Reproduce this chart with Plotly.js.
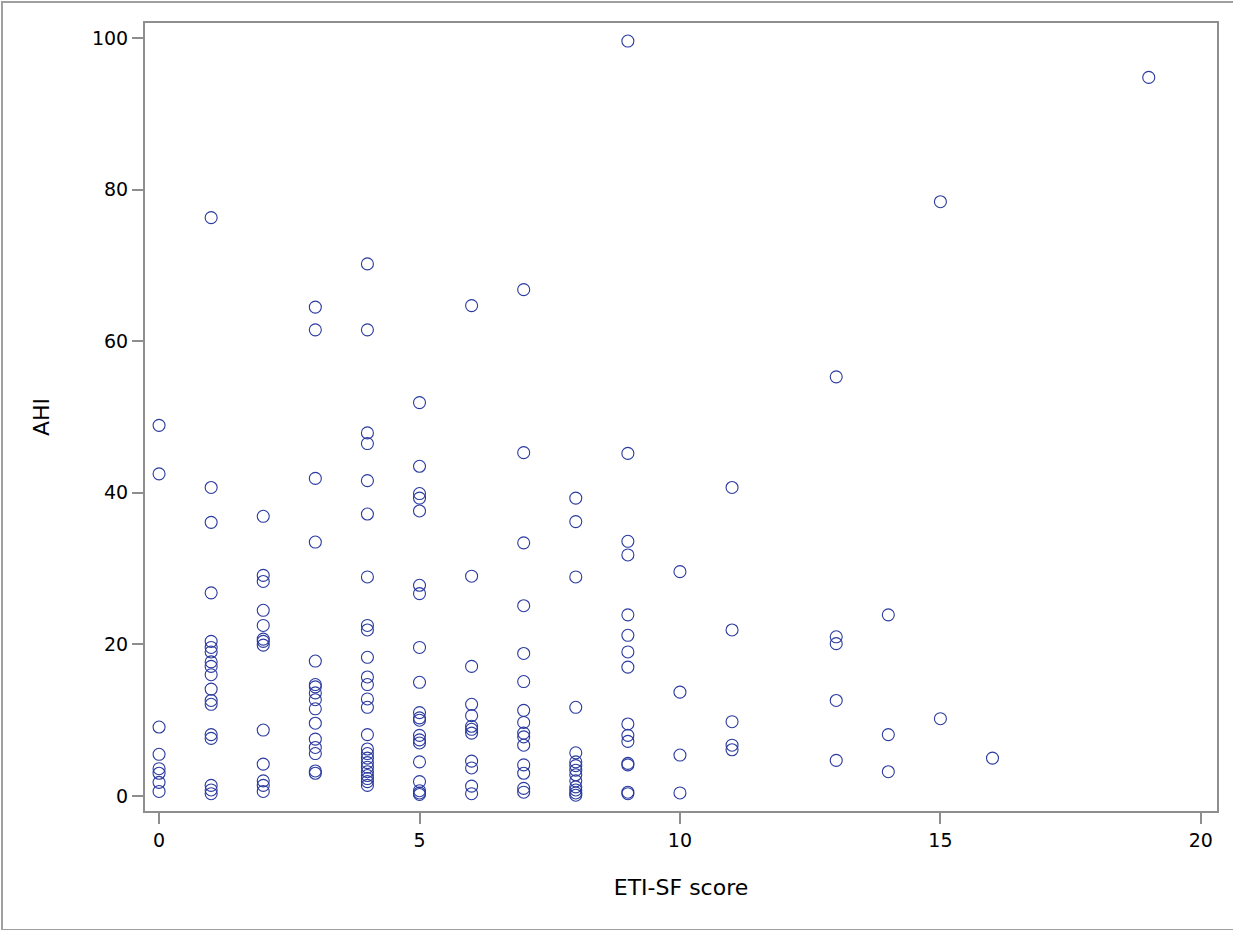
<!DOCTYPE html>
<html>
<head>
<meta charset="utf-8">
<script src="https://cdn.plot.ly/plotly-3.0.1.min.js"></script>
<style>
  html, body { margin: 0; padding: 0; background: #fff; }
  #frame { position: absolute; left: 0; top: 0; width: 1233px; height: 930px; box-sizing: border-box;
           border-left: 2px solid #a0a0a0; border-top: 2px solid #a0a0a0; border-bottom: 2px solid #a0a0a0; margin-left:1px; margin-top:1px; pointer-events:none; }
  #chart { position: absolute; left: 0; top: 0; width: 1233px; height: 930px; }
</style>
</head>
<body>
<div id="chart"></div>
<div id="frame"></div>
<script>
// ETI-SF score values (x) and AHI observations for each score
const etiScores = [0, 1, 2, 3, 4, 5, 6, 7, 8, 9, 10, 11, 13, 14, 15, 16, 19];
const ahi0  = [48.9, 42.5, 9.1, 5.5, 3.6, 3.0, 1.8, 0.6];
const ahi1  = [76.3, 40.7, 36.1, 26.8, 20.4, 19.6, 19.0, 17.7, 17.1, 16.0, 14.1, 12.6, 12.1, 8.1, 7.6, 1.4, 0.8, 0.3];
const ahi2  = [36.9, 29.1, 28.3, 24.5, 22.5, 20.7, 20.4, 19.9, 8.7, 4.2, 2.0, 1.4, 0.6];
const ahi3  = [64.5, 61.5, 41.9, 33.5, 17.8, 14.7, 14.4, 13.6, 12.7, 11.5, 9.6, 7.5, 6.4, 5.6, 3.3, 3.0];
const ahi4  = [70.2, 61.5, 47.9, 46.5, 41.6, 37.2, 28.9, 22.5, 21.9, 18.3, 15.7, 14.7, 12.8, 11.7, 8.1, 6.2, 5.6, 5.0, 4.4, 3.8, 3.2, 2.7, 2.3, 1.9, 1.4];
const ahi5  = [51.9, 43.5, 39.9, 39.3, 37.6, 27.8, 26.7, 19.6, 15.0, 11.0, 10.3, 10.0, 8.0, 7.4, 7.0, 4.5, 1.9, 0.7, 0.4, 0.2];
const ahi6  = [64.7, 29.0, 17.1, 12.1, 10.6, 9.2, 8.8, 8.3, 4.6, 3.7, 1.3, 0.3];
const ahi7  = [66.8, 45.3, 33.4, 25.1, 18.8, 15.1, 11.3, 9.7, 8.3, 7.8, 6.7, 4.1, 3.0, 1.0, 0.5];
const ahi8  = [39.3, 36.2, 28.9, 11.7, 5.7, 4.5, 4.0, 3.4, 2.8, 2.0, 1.2, 0.8, 0.4, 0.1];
const ahi9  = [99.6, 45.2, 33.6, 31.8, 23.9, 21.2, 19.0, 17.0, 9.5, 8.0, 7.2, 4.3, 4.1, 0.5, 0.3];
const ahi10 = [29.6, 13.7, 5.4, 0.4];
const ahi11 = [40.7, 21.9, 9.8, 6.7, 6.1];
const ahi13 = [55.3, 21.0, 20.1, 12.6, 4.7];
const ahi14 = [23.9, 8.1, 3.2];
const ahi15 = [78.4, 10.2];
const ahi16 = [5.0];
const ahi19 = [94.8];

const ahiGroups = [ahi0, ahi1, ahi2, ahi3, ahi4, ahi5, ahi6, ahi7, ahi8, ahi9, ahi10, ahi11, ahi13, ahi14, ahi15, ahi16, ahi19];

const xTicks = [0, 5, 10, 15, 20];
const yTicks = [0, 20, 40, 60, 80, 100];
const xTitle = 'ETI-SF score';
const yTitle = 'AHI';

const xs = [], ys = [];
etiScores.forEach((s, i) => {
  ahiGroups[i].forEach(v => { xs.push(s); ys.push(v); });
});

const trace = {
  type: 'scatter',
  mode: 'markers',
  x: xs,
  y: ys,
  marker: {
    symbol: 'circle-open',
    size: 12,
    color: 'rgb(42,58,158)',
    line: { width: 1.1, color: 'rgb(42,58,158)' }
  },
  hoverinfo: 'x+y'
};

const fontFam = 'DejaVu Sans, Verdana, sans-serif';

const axisCommon = {
  showgrid: false,
  zeroline: false,
  showline: true,
  linecolor: '#8e8e8e',
  linewidth: 2,
  mirror: true,
  ticks: 'outside',
  ticklen: 11,
  tickwidth: 2,
  tickcolor: '#8e8e8e',
  tickfont: { family: fontFam, size: 19, color: '#000' },
  tickmode: 'array'
};

const layout = {
  width: 1233,
  height: 930,
  margin: { l: 145, r: 16, t: 23, b: 119 },
  paper_bgcolor: '#fff',
  plot_bgcolor: '#fff',
  showlegend: false,
  xaxis: Object.assign({}, axisCommon, {
    range: [-0.27, 20.31],
    tickvals: xTicks,
    ticktext: xTicks.map(String),
    title: { text: xTitle, font: { family: fontFam, size: 22, color: '#000' }, standoff: 30 }
  }),
  yaxis: Object.assign({}, axisCommon, {
    range: [-1.98, 101.98],
    tickvals: yTicks,
    ticktext: yTicks.map(String),
    title: { text: yTitle, font: { family: fontFam, size: 22, color: '#000' }, standoff: 36 }
  })
};

Plotly.newPlot('chart', [trace], layout, { displayModeBar: false, staticPlot: true });
</script>
</body>
</html>
